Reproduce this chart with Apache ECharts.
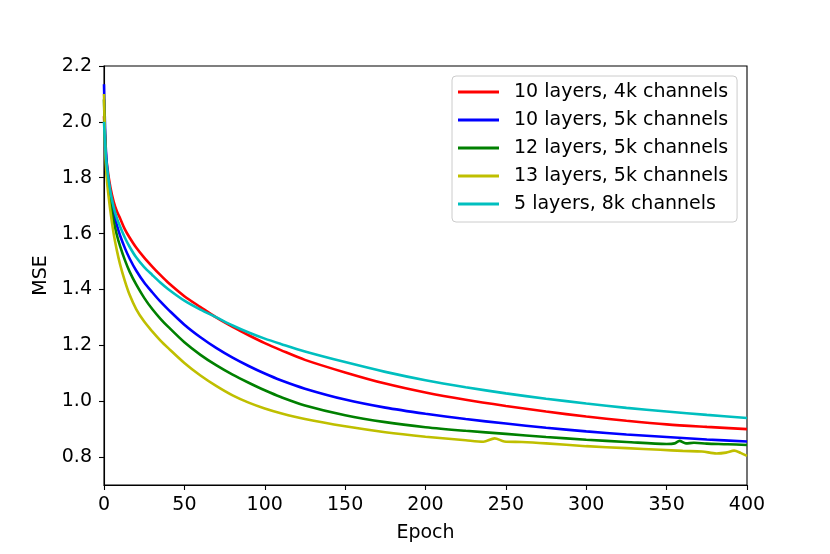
<!DOCTYPE html>
<html>
<head>
<meta charset="utf-8">
<script src="https://cdn.jsdelivr.net/npm/echarts@6/dist/echarts.min.js"></script>
<style>html,body{margin:0;padding:0;background:#fff;}#c{width:830px;height:554px;}</style>
</head>
<body>
<div id="c"></div>
<script>
// ---- data ----
const seriesNames = ["10 layers, 4k channels", "10 layers, 5k channels", "12 layers, 5k channels", "13 layers, 5k channels", "5 layers, 8k channels"];
const epochsCommon = [0,1,2,4,6,8,10,13,16,20,25,30,35,40,50,60,70,80,90,100,110,125,150,175,200,225,250,275,300,325,350,375,400];
const redValues  = [2.02,1.90,1.84,1.765,1.715,1.68,1.655,1.615,1.585,1.55,1.514,1.482,1.452,1.424,1.376,1.337,1.299,1.266,1.236,1.208,1.183,1.148,1.103,1.063,1.031,1.005,0.983,0.963,0.945,0.93,0.917,0.908,0.90];
const blueValues = [2.135,1.92,1.83,1.74,1.675,1.63,1.593,1.548,1.51,1.468,1.425,1.39,1.357,1.328,1.274,1.229,1.190,1.156,1.126,1.099,1.075,1.045,1.006,0.977,0.955,0.936,0.920,0.905,0.892,0.881,0.872,0.863,0.856];
const cyanValues = [2.00,1.89,1.83,1.75,1.695,1.655,1.625,1.585,1.552,1.515,1.48,1.452,1.425,1.401,1.36,1.328,1.300,1.271,1.246,1.224,1.205,1.178,1.14,1.105,1.075,1.05,1.028,1.009,0.992,0.976,0.963,0.951,0.94];
const greenEpochs = [0,1,2,4,6,8,10,13,16,20,25,30,35,40,50,60,70,80,90,100,110,125,150,175,200,225,250,275,300,325,350,355,358,362,367,375,388,400];
const greenValues = [2.08,1.88,1.80,1.71,1.645,1.595,1.555,1.505,1.463,1.418,1.37,1.33,1.296,1.266,1.211,1.166,1.128,1.095,1.066,1.039,1.015,0.985,0.950,0.925,0.907,0.894,0.883,0.872,0.862,0.854,0.847,0.849,0.858,0.849,0.851,0.848,0.846,0.843];
const yellowEpochs = [0,1,2,4,6,8,10,13,16,20,25,30,35,40,50,60,70,80,90,100,110,125,150,175,200,225,236,243,249,260,275,300,325,346,360,372,381,387,392,396,400];
const yellowValues = [2.10,1.87,1.78,1.68,1.60,1.54,1.49,1.43,1.38,1.33,1.285,1.25,1.218,1.19,1.137,1.092,1.054,1.021,0.995,0.974,0.957,0.936,0.910,0.889,0.873,0.860,0.855,0.867,0.856,0.854,0.849,0.839,0.832,0.826,0.822,0.820,0.813,0.816,0.823,0.815,0.804];
const xTicks = [0,50,100,150,200,250,300,350,400];
const yTicks = [0.8,1.0,1.2,1.4,1.6,1.8,2.0,2.2];

const pair = (xs, ys) => xs.map((x, i) => [x, ys[i]]);
const colors = ["#ff0000", "#0000ff", "#008000", "#bfbf00", "#00bfbf"];
const datasets = [
  pair(epochsCommon, redValues),
  pair(epochsCommon, blueValues),
  pair(greenEpochs, greenValues),
  pair(yellowEpochs, yellowValues),
  pair(epochsCommon, cyanValues)
];

const font = "DejaVu Sans";
const chart = echarts.init(document.getElementById('c'), null, {renderer: 'canvas'});
chart.setOption({
  animation: false,
  backgroundColor: '#fff',
  grid: {left: 104, right: 83, top: 66, bottom: 69, show: true, borderColor: '#000', borderWidth: 1.1, backgroundColor: 'transparent'},
  xAxis: {
    type: 'value', min: 0, max: 400, interval: 50,
    name: 'Epoch', nameLocation: 'middle', nameGap: 39,
    nameTextStyle: {fontFamily: font, fontSize: 19, color: '#000'},
    axisLine: {show: true, lineStyle: {color: '#000', width: 1.1}},
    axisTick: {show: true, length: 5, lineStyle: {color: '#000', width: 1.1}, customValues: xTicks},
    axisLabel: {fontFamily: font, fontSize: 19, color: '#000', margin: 11, customValues: xTicks},
    splitLine: {show: false}
  },
  yAxis: {
    type: 'value', min: 0.7, max: 2.2,
    name: 'MSE', nameLocation: 'middle', nameGap: 50, nameRotate: 90,
    nameTextStyle: {fontFamily: font, fontSize: 19, color: '#000'},
    axisLine: {show: true, lineStyle: {color: '#000', width: 1.1}},
    axisTick: {show: true, length: 5, lineStyle: {color: '#000', width: 1.1}, customValues: yTicks},
    axisLabel: {fontFamily: font, fontSize: 19, color: '#000', margin: 12, customValues: yTicks, formatter: v => Number(v).toFixed(1)},
    splitLine: {show: false}
  },
  legend: {
    data: seriesNames,
    orient: 'vertical',
    left: 452, top: 76,
    padding: [6, 9, 8, 6],
    icon: 'rect',
    itemWidth: 41, itemHeight: 3, itemGap: 8,
    backgroundColor: 'rgba(255,255,255,0.8)',
    borderColor: '#cccccc', borderWidth: 1, borderRadius: 4,
    textStyle: {fontFamily: font, fontSize: 19, color: '#000', lineHeight: 20, padding: [0, 0, 0, 10]}
  },
  series: seriesNames.map((n, i) => ({
    name: n, type: 'line', data: datasets[i],
    showSymbol: false, symbol: 'none',
    smooth: 0.3,
    lineStyle: {color: colors[i], width: 2.6},
    itemStyle: {color: colors[i]},
    z: 2 + i
  }))
});
</script>
</body>
</html>
